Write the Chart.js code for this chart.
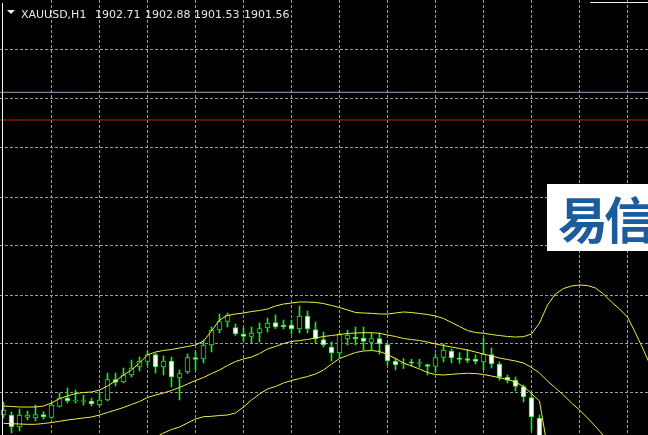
<!DOCTYPE html>
<html>
<head>
<meta charset="utf-8">
<script src="https://cdn.jsdelivr.net/npm/chart.js@4.4.1/dist/chart.umd.min.js"></script>
<style>
    html, body { margin: 0; padding: 0; background: #000; overflow: hidden; }
    #wrap { position: relative; width: 648px; height: 435px; }
</style>
</head>
<body>
<div id="wrap"><canvas id="chart"></canvas></div>
<script>
// XAUUSD H1 candles (bar index 0 = left edge of the window)
const opens = [
    1917.80, 1917.80, 1916.60, 1917.55, 1917.50, 1917.85, 1917.55, 1918.65, 1919.50, 1919.20,
    1919.15, 1919.20, 1918.80, 1919.30, 1921.35, 1921.10, 1921.80, 1922.65, 1923.15, 1923.85,
    1922.60, 1923.20, 1921.50, 1922.10, 1923.55, 1923.40, 1924.80, 1926.30, 1927.15, 1926.55,
    1925.90, 1925.65, 1926.00, 1926.50, 1927.05, 1926.80, 1926.80, 1926.40, 1927.70, 1926.35,
    1925.35, 1924.60, 1924.00, 1925.40, 1925.60, 1925.50, 1925.05, 1925.45, 1924.85, 1923.20,
    1922.90, 1923.10, 1922.95, 1922.85, 1922.65, 1923.55, 1924.20, 1923.50, 1923.45, 1923.40,
    1923.10, 1923.85, 1922.90, 1921.60, 1921.30, 1920.65, 1919.55, 1917.50
];
const highs = [
    1919.10, 1918.10, 1918.40, 1918.20, 1918.80, 1918.13, 1919.00, 1920.00, 1920.50, 1920.30,
    1919.80, 1919.50, 1920.00, 1922.00, 1922.00, 1922.50, 1923.30, 1923.60, 1924.20, 1924.00,
    1923.70, 1923.60, 1922.30, 1923.90, 1924.10, 1925.30, 1926.60, 1927.90, 1928.00, 1926.90,
    1926.50, 1926.60, 1927.00, 1927.50, 1927.80, 1927.30, 1927.30, 1928.70, 1928.20, 1927.10,
    1926.10, 1925.10, 1926.00, 1926.30, 1926.60, 1926.60, 1926.00, 1926.00, 1925.00, 1923.50,
    1923.45, 1923.37, 1923.37, 1922.90, 1923.90, 1924.90, 1924.40, 1924.03, 1924.37, 1923.80,
    1925.50, 1924.50, 1923.10, 1921.80, 1921.60, 1920.80, 1920.00, 1917.80
];
const lows = [
    1917.50, 1916.00, 1916.20, 1917.30, 1917.20, 1917.40, 1917.45, 1918.60, 1919.00, 1919.00,
    1918.80, 1918.70, 1918.70, 1919.20, 1920.70, 1921.00, 1921.60, 1922.20, 1922.80, 1922.00,
    1921.80, 1920.60, 1919.30, 1921.95, 1922.30, 1923.00, 1924.10, 1926.00, 1926.60, 1925.75,
    1925.20, 1925.00, 1925.10, 1926.10, 1926.45, 1926.40, 1925.90, 1926.00, 1926.00, 1925.00,
    1924.60, 1923.20, 1923.50, 1924.80, 1924.80, 1924.30, 1924.30, 1923.90, 1922.80, 1922.30,
    1922.45, 1922.70, 1922.57, 1921.80, 1922.10, 1923.10, 1923.00, 1922.97, 1923.03, 1922.90,
    1922.30, 1922.50, 1921.30, 1921.00, 1920.20, 1919.10, 1916.30, 1914.30
];
const closes = [
    1918.30, 1916.60, 1917.80, 1917.80, 1917.85, 1917.60, 1918.80, 1919.45, 1919.20, 1919.30,
    1919.25, 1918.90, 1919.30, 1921.35, 1921.05, 1921.80, 1922.50, 1923.20, 1923.85, 1922.60,
    1923.20, 1921.60, 1921.95, 1923.55, 1923.35, 1924.80, 1926.30, 1927.15, 1927.80, 1925.90,
    1925.65, 1926.00, 1926.45, 1927.00, 1926.60, 1926.60, 1926.40, 1927.70, 1926.40, 1925.40,
    1924.80, 1924.00, 1925.85, 1925.80, 1925.40, 1925.15, 1925.45, 1924.90, 1923.20, 1922.80,
    1923.00, 1923.00, 1923.05, 1922.65, 1923.55, 1924.30, 1923.50, 1923.35, 1923.25, 1923.15,
    1923.90, 1922.90, 1921.60, 1921.25, 1920.65, 1919.60, 1917.60, 1914.80
];

// Bollinger bands as drawn on the chart
const upperBand = [
    1918.70, 1918.65, 1918.60, 1918.60, 1918.60, 1918.70, 1919.00, 1919.45, 1919.70, 1919.95,
    1920.05, 1920.10, 1920.30, 1920.70, 1921.20, 1921.80, 1922.30, 1923.00, 1923.80, 1924.10,
    1924.25, 1924.35, 1924.50, 1924.65, 1924.80, 1925.20, 1926.20, 1927.30, 1927.75, 1927.90,
    1928.00, 1928.15, 1928.25, 1928.40, 1928.70, 1928.90, 1929.00, 1929.10, 1929.10, 1929.05,
    1928.95, 1928.75, 1928.55, 1928.30, 1928.05, 1928.00, 1927.97, 1927.90, 1927.90, 1928.00,
    1928.10, 1928.05, 1927.95, 1927.85, 1927.70, 1927.45, 1927.05, 1926.65, 1926.25, 1926.05,
    1925.97, 1925.85, 1925.75, 1925.65, 1925.60, 1925.63, 1925.90, 1927.00, 1928.80, 1929.90,
    1930.45, 1930.70, 1930.80, 1930.75, 1930.50, 1929.90, 1929.10, 1928.40, 1927.60, 1926.00,
    1924.30, 1922.50
];
const middleBand = [
    1916.97, 1916.93, 1916.90, 1916.87, 1916.87, 1916.95, 1917.05, 1917.17, 1917.30, 1917.40,
    1917.50, 1917.60, 1917.80, 1918.05, 1918.30, 1918.55, 1918.85, 1919.15, 1919.55, 1919.80,
    1920.00, 1920.25, 1920.55, 1920.90, 1921.25, 1921.55, 1921.95, 1922.30, 1922.75, 1923.15,
    1923.40, 1923.60, 1923.95, 1924.40, 1924.65, 1924.95, 1925.15, 1925.25, 1925.35, 1925.50,
    1925.65, 1925.75, 1925.85, 1925.95, 1926.00, 1926.03, 1926.03, 1925.97, 1925.80, 1925.65,
    1925.45, 1925.35, 1925.25, 1925.10, 1924.90, 1924.75, 1924.60, 1924.45, 1924.30, 1924.10,
    1923.90, 1923.70, 1923.50, 1923.35, 1923.20, 1923.00, 1922.55, 1922.00, 1921.20, 1920.50,
    1919.80, 1919.00, 1918.30, 1917.50, 1916.65, 1915.75, 1914.80
];
const lowerBand = [
    null, null, null, null, null, null, null, null, null, null,
    null, null, null, null, null, null, null, null, 1915.10, 1915.55,
    1916.00, 1916.35, 1916.60, 1917.00, 1917.40, 1917.63, 1917.67, 1917.75, 1917.80, 1918.00,
    1918.60, 1919.30, 1919.90, 1920.40, 1920.65, 1921.00, 1921.25, 1921.45, 1921.65, 1921.90,
    1922.30, 1922.90, 1923.45, 1923.75, 1924.05, 1924.20, 1924.25, 1924.15, 1923.85, 1923.45,
    1923.00, 1922.70, 1922.40, 1922.05, 1921.85, 1921.80, 1921.87, 1921.93, 1921.97, 1921.95,
    1921.85, 1921.70, 1921.53, 1921.35, 1921.10, 1920.65, 1919.95, 1919.20, 1914.50
];

// horizontal price levels
const grayLevel = 1950.07;
const redLevel = 1947.30;

const symbolLabel = 'XAUUSD,H1';
const quoteLabels = ['1902.71', '1902.88', '1901.53', '1901.56'];
const logoChars = ['易', '信'];

const candleGreen = '#22e422';
const bandYellow = '#eeee46';
const gridColor = '#9c9ca4';

function toPoints(values) {
    return values
        .map((v, i) => ({ x: i, y: v }))
        .filter(p => p.y !== null);
}

function levelLine(value, color) {
    return {
        type: 'line',
        data: [{ x: -2, y: value }, { x: 84, y: value }],
        borderColor: color,
        borderWidth: 1,
        pointRadius: 0,
        order: 3
    };
}

function bandLine(values) {
    return {
        type: 'line',
        data: toPoints(values),
        borderColor: bandYellow,
        borderWidth: 1,
        pointRadius: 0,
        tension: 0,
        order: 0
    };
}

// black background, frame, title and watermark
const terminalLook = {
    id: 'terminalLook',
    beforeDraw(chart) {
        const ctx = chart.ctx;
        ctx.save();
        ctx.fillStyle = '#000';
        ctx.fillRect(0, 0, chart.width, chart.height);
        ctx.restore();
    },
    afterDraw(chart) {
        const ctx = chart.ctx;
        ctx.save();

        ctx.strokeStyle = '#f0f0f0';
        ctx.lineWidth = 1;
        ctx.beginPath();
        ctx.moveTo(2.5, 3);
        ctx.lineTo(2.5, chart.height);
        ctx.moveTo(590, 2.5);
        ctx.lineTo(chart.width, 2.5);
        ctx.stroke();

        ctx.fillStyle = '#f0f0f0';
        ctx.beginPath();
        ctx.moveTo(7, 10);
        ctx.lineTo(15, 10);
        ctx.lineTo(11, 14);
        ctx.closePath();
        ctx.fill();

        ctx.font = '11px "DejaVu Sans"';
        ctx.fillStyle = '#e8e8e8';
        ctx.textBaseline = 'alphabetic';
        ctx.fillText(symbolLabel, 21, 17.5);
        const quoteX = [95, 145, 194, 244];
        quoteLabels.forEach((q, i) => ctx.fillText(q, quoteX[i], 17.5));

        ctx.fillStyle = '#ffffff';
        ctx.fillRect(547, 184, 101, 67);
        ctx.font = 'bold 50px "Noto Sans CJK SC"';
        ctx.fillStyle = '#1d5c9c';
        ctx.fillText(logoChars[0], 558, 238.5);
        ctx.fillText(logoChars[1], 604, 238.5);

        ctx.restore();
    }
};

const chart = new Chart(document.getElementById('chart'), {
    type: 'bar',
    data: {
        datasets: [
            bandLine(upperBand),
            bandLine(middleBand),
            bandLine(lowerBand),
            levelLine(grayLevel, '#9aa8bf'),
            levelLine(redLevel, '#cc2020'),
            {
                // candle bodies: hollow when up, white when down
                type: 'bar',
                data: opens.map((o, i) => ({ x: i, y: [o, closes[i]] })),
                backgroundColor: opens.map((o, i) => closes[i] >= o ? '#000000' : '#ffffff'),
                borderColor: candleGreen,
                borderWidth: 1,
                borderSkipped: false,
                barThickness: 5,
                grouped: false,
                order: 1
            },
            {
                // high-low wicks
                type: 'bar',
                data: lows.map((l, i) => ({ x: i, y: [l, highs[i]] })),
                backgroundColor: candleGreen,
                borderWidth: 0,
                barThickness: 1,
                grouped: false,
                order: 2
            }
        ]
    },
    options: {
        responsive: true,
        maintainAspectRatio: false,
        animation: false,
        layout: { padding: 0 },
        plugins: {
            legend: { display: false },
            tooltip: { enabled: false }
        },
        scales: {
            x: {
                type: 'linear',
                min: -0.4375,
                max: 80.5625,
                offset: false,
                ticks: { display: false },
                grid: { color: gridColor, drawTicks: false, offset: false },
                border: { display: false, dash: [3, 2] },
                afterBuildTicks: scale => {
                    const ticks = [];
                    for (let v = 6; v <= 78; v += 6) ticks.push({ value: v });
                    scale.ticks = ticks;
                }
            },
            y: {
                type: 'linear',
                min: 1915.8,
                max: 1959.3,
                ticks: { display: false },
                grid: { color: gridColor, drawTicks: false },
                border: { display: false, dash: [3, 2] },
                afterBuildTicks: scale => {
                    const ticks = [];
                    for (let k = 0; k < 8; k++) ticks.push({ value: 1920 + 4.9 * k });
                    scale.ticks = ticks;
                }
            }
        }
    },
    plugins: [terminalLook]
});
</script>
</body>
</html>
